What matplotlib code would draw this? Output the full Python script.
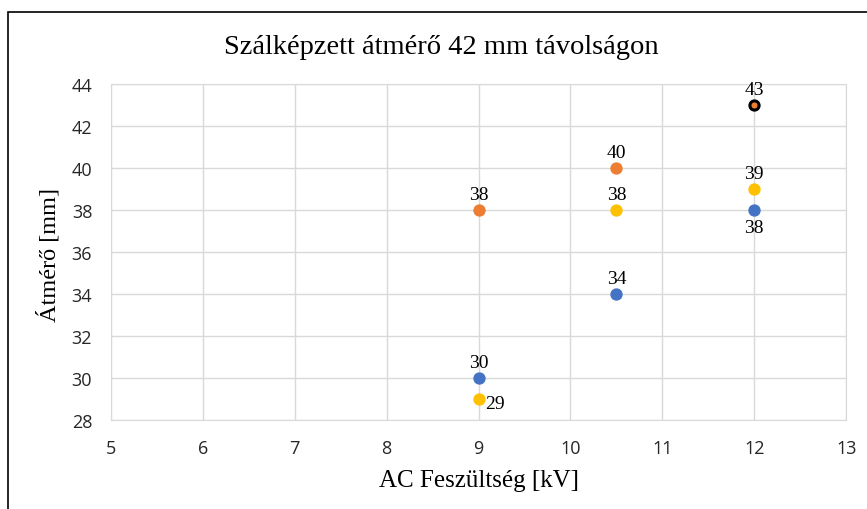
import numpy as np
import matplotlib.pyplot as plt
from matplotlib.patches import Rectangle

voltage = [9, 10.5, 12]
blue_vals = [30, 34, 38]
orange_vals = [38, 40, 43]
yellow_vals = [29, 38, 39]

blue_pos = ["above", "above", "below"]
orange_pos = ["above", "above", "above"]
yellow_pos = ["right", "above", "above"]

x_ticks = [5, 6, 7, 8, 9, 10, 11, 12, 13]
y_ticks = [28, 30, 32, 34, 36, 38, 40, 42, 44]

title = "Szálképzett átmérő 42 mm távolságon"
x_label = "AC Feszültség [kV]"
y_label = "Átmérő [mm]"

serif = "Liberation Serif"
sans = "Open Sans"

fig = plt.figure(figsize = (8.67, 5.10), dpi = 100)
ax = fig.add_axes([0.128, 0.1745, 0.848, 0.6585])

# outer frame of the chart (only left/top visible in reference)
fig.patches.append(Rectangle((8 / 867, -0.1), 1.2, 1 - 13 / 510 + 0.1, transform = fig.transFigure,
                             fill = False, edgecolor = "black", linewidth = 1.2))


def label_points(xs, ys, where):
    for x, y, w in zip(xs, ys, where):
        if w == "above":
            ax.annotate(str(y), (x, y), xytext = (0, 5), textcoords = "offset points",
                        ha = "center", va = "bottom", fontsize = 14, family = serif)
        elif w == "below":
            ax.annotate(str(y), (x, y), xytext = (0, -6.5), textcoords = "offset points",
                        ha = "center", va = "top", fontsize = 14, family = serif)
        else:
            ax.annotate(str(y), (x, y), xytext = (5, -3), textcoords = "offset points",
                        ha = "left", va = "center", fontsize = 14, family = serif)


ax.scatter(voltage, blue_vals, s = 62, color = "#4472C4", zorder = 3)
ax.scatter(voltage[:2], orange_vals[:2], s = 62, color = "#ED7D31", zorder = 3)
ax.scatter(voltage[2:], orange_vals[2:], s = 44, color = "#ED7D31", edgecolors = "black",
           linewidths = 2.2, zorder = 3)
ax.scatter(voltage, yellow_vals, s = 62, color = "#FFC000", zorder = 3)

label_points(voltage, blue_vals, blue_pos)
label_points(voltage, orange_vals, orange_pos)
label_points(voltage, yellow_vals, yellow_pos)

ax.set_xlim(5, 13)
ax.set_ylim(28, 44)
ax.set_xticks(x_ticks)
ax.set_yticks(y_ticks)
ax.set_xticklabels([str(t) for t in x_ticks], family = sans, fontsize = 13, color = "#262626")
ax.set_yticklabels([str(t) for t in y_ticks], family = sans, fontsize = 13, color = "#262626")
ax.tick_params(length = 0)
ax.tick_params(axis = "x", pad = 14)
ax.tick_params(axis = "y", pad = 13.5)
ax.grid(True, color = "#D9D9D9", linewidth = 1)
ax.set_axisbelow(True)
for sp in ax.spines.values():
    sp.set_color("#D9D9D9")

fig.text(479 / 867, 1 - 481 / 510, x_label, family = serif, fontsize = 18, ha = "center", va = "center")
fig.text(49 / 867, 1 - 255 / 510, y_label, family = serif, fontsize = 17.5, ha = "center", va = "center",
         rotation = 90)
fig.text(441 / 867, 1 - 47 / 510, title, family = serif, fontsize = 20.5, ha = "center", va = "center")

fig.savefig("out.png", dpi = 100)
